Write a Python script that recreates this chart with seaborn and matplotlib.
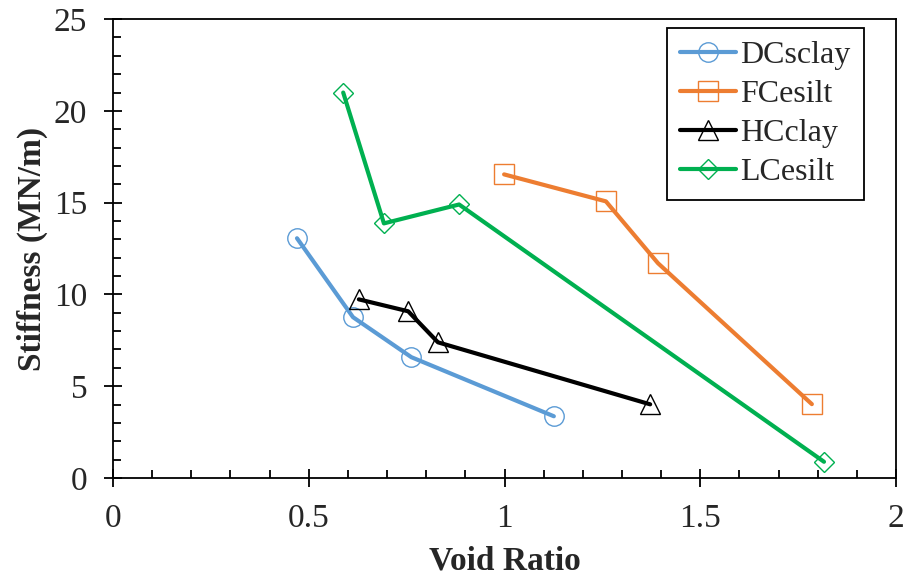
import matplotlib
matplotlib.use("Agg")
import matplotlib.pyplot as plt
import seaborn as sns
import pandas as pd
from matplotlib.ticker import MultipleLocator

sns.set_theme(style="white")
plt.rcParams['font.family'] = ['Liberation Serif', 'DejaVu Serif']
plt.rcParams['mathtext.fontset'] = 'stix'

series_names = ["DCsclay", "FCesilt", "HCclay", "LCesilt"]
dc_x = [0.47, 0.613, 0.762, 1.126]
dc_y = [13.06, 8.76, 6.58, 3.36]
fc_x = [0.999, 1.259, 1.392, 1.785]
fc_y = [16.54, 15.07, 11.7, 4.02]
hc_x = [0.628, 0.754, 0.83, 1.372]
hc_y = [9.73, 9.08, 7.39, 4.01]
lc_x = [0.588, 0.692, 0.884, 1.816]
lc_y = [21.0, 13.87, 14.9, 0.88]

colors = ["#5B9BD5", "#ED7D31", "#000000", "#00B050"]
markers = ["o", "s", "^", "D"]
msizes = [14, 14, 15, 10]

xs = [dc_x, fc_x, hc_x, lc_x]
ys = [dc_y, fc_y, hc_y, lc_y]

fig = plt.figure(figsize=(9.06, 5.8), dpi=100)
ax = fig.add_axes([0.1247, 0.176, 0.989 - 0.1247, 0.967 - 0.176])

for name, x, y, c, m, ms in zip(series_names, xs, ys, colors, markers, msizes):
    df = pd.DataFrame({"x": x, "y": y})
    sns.lineplot(data=df, x="x", y="y", ax=ax, sort=False, color=c, lw=3,
                 marker=m, markersize=ms, markerfacecolor="none",
                 markeredgecolor=c, markeredgewidth=1.0, label=name)

ax.set_xlim(0, 2)
ax.set_ylim(0, 25)
ax.xaxis.set_major_locator(MultipleLocator(0.5))
ax.xaxis.set_minor_locator(MultipleLocator(0.1))
ax.yaxis.set_major_locator(MultipleLocator(5))
ax.yaxis.set_minor_locator(MultipleLocator(1))
ax.set_xticks([0, 0.5, 1, 1.5, 2])
ax.set_xticklabels(["0", "0.5", "1", "1.5", "2"])
ax.tick_params(which="major", direction="inout", length=13, width=1.3,
               labelsize=24, color="black", bottom=True, left=True, pad=12)
ax.tick_params(which="minor", direction="in", length=6, width=1.3,
               color="black", bottom=True, left=True)
for s in ax.spines.values():
    s.set_color("black")
    s.set_linewidth(1.3)

ax.set_xlabel("Void Ratio", fontsize=24, fontweight="bold", labelpad=8)
ax.set_ylabel("Stiffness (MN/m)", fontsize=24, fontweight="bold", labelpad=4)

leg = ax.legend(loc="upper right", fontsize=23, frameon=True, fancybox=False,
                edgecolor="black", handlelength=1.75, borderpad=0.4,
                labelspacing=0.3, handletextpad=0.15, borderaxespad=0,
                bbox_to_anchor=(0.9585, 0.98))
leg.get_frame().set_linewidth(1.3)
leg.get_frame().set_alpha(1)

fig.savefig("out.png", dpi=100)
